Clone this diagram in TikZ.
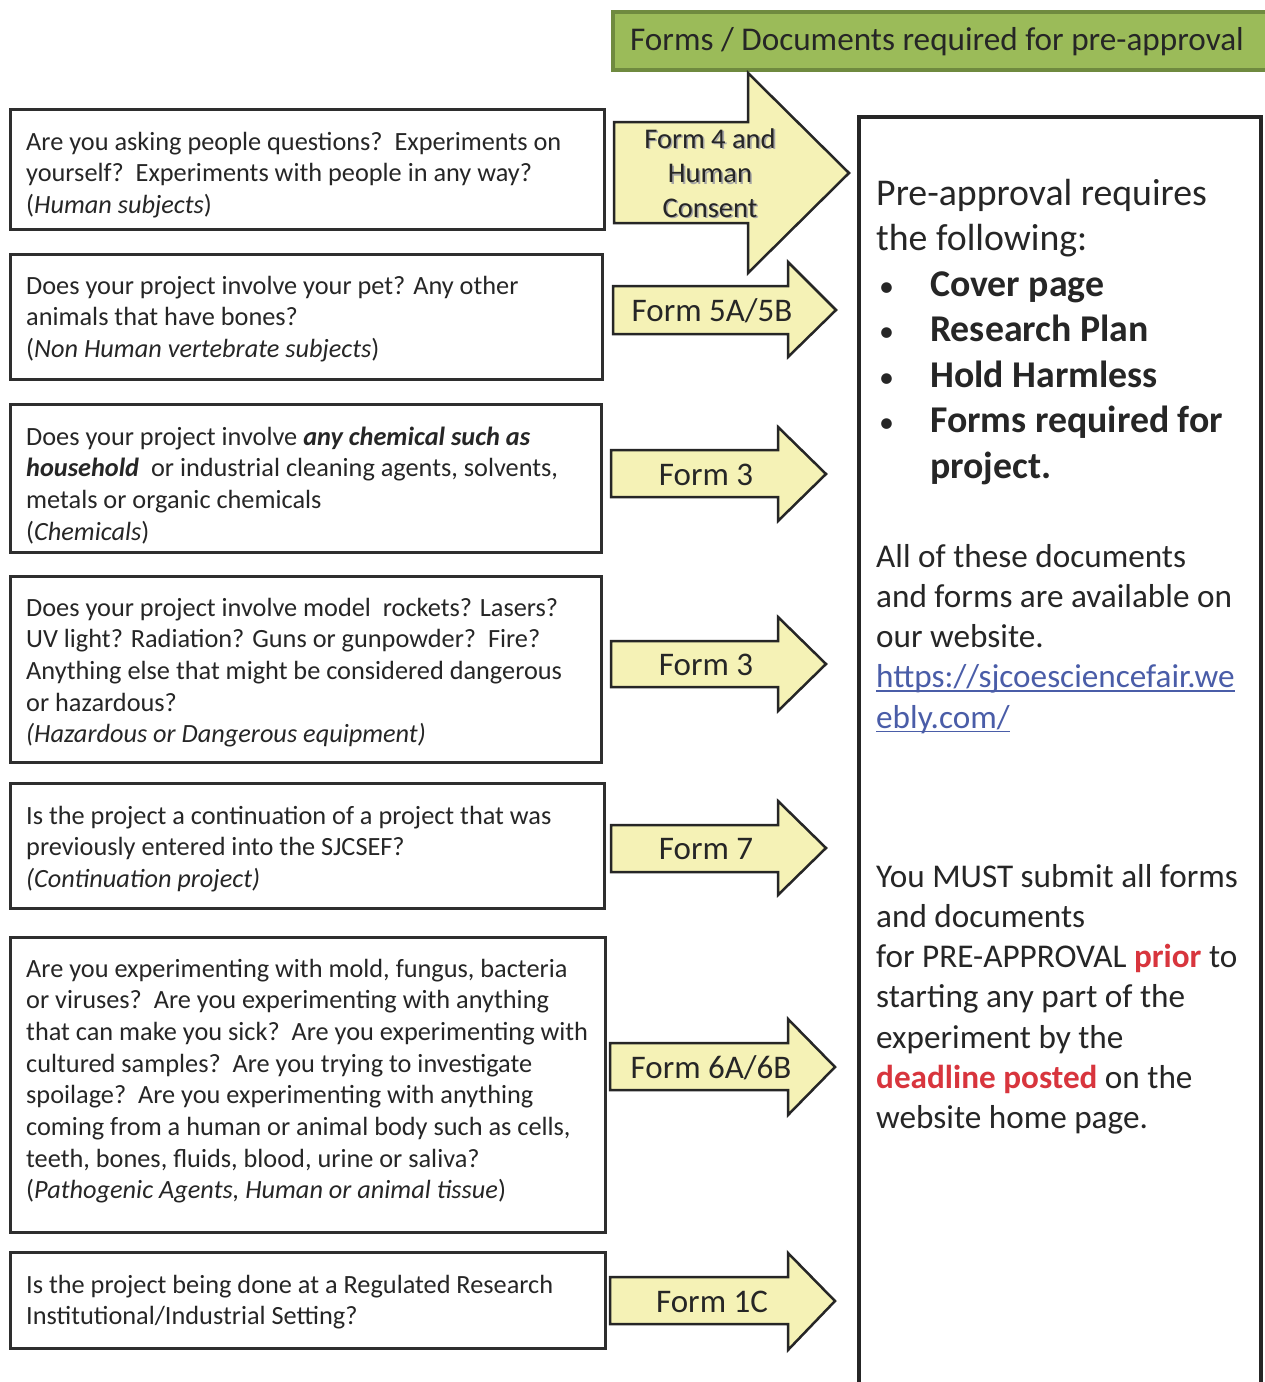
\documentclass[tikz,border=0pt]{standalone}
\usepackage{fontspec}
\setmainfont{Carlito}
\definecolor{ink}{HTML}{262626}
\definecolor{boxline}{HTML}{2E2E2E}
\definecolor{titlefill}{HTML}{9BBB59}
\definecolor{titledraw}{HTML}{6F8A3F}
\definecolor{arrfill}{HTML}{F5F2B6}
\definecolor{linkblue}{HTML}{4A5DA8}
\definecolor{alertred}{HTML}{D8353D}
\newcommand\rowsl[1]{\begin{tabular}[t]{@{}l@{}}#1\end{tabular}}
\newcommand\rowsc[1]{\begin{tabular}[t]{@{}c@{}}#1\end{tabular}}
\newcommand\linkul[1]{\setbox0\hbox{#1}\rlap{\color{linkblue}\rule[-4pt]{\wd0}{1.6pt}}\box0}
\newcommand\bul{\makebox[54pt][l]{\hspace{3pt}{\fontsize{30}{30}\selectfont•}}}
\newcommand\shad[1]{\rlap{\hspace{1.6pt}\raisebox{-1.6pt}{\textcolor{black!35}{#1}}}#1}
\tikzset{
  qbox/.style={draw=boxline, line width=3pt, fill=white, inner sep=0pt, outer sep=0pt, anchor=north west},
  panelbox/.style={draw=ink, line width=4pt},
  titlebox/.style={draw=titledraw, line width=4pt, fill=titlefill, inner sep=0pt, anchor=north west},
  blockarr/.style={draw=ink, line width=2.5pt, fill=arrfill, line join=miter},
  qtext/.style={anchor=base west, inner sep=0pt, text=ink, font=\fontsize{26.3}{31.7}\selectfont},
  arrtext/.style={anchor=base, inner sep=0pt, text=ink, font=\fontsize{33}{40}\selectfont},
  bigtext/.style={anchor=base west, inner sep=0pt, text=ink, font=\fontsize{37.8}{45.5}\selectfont},
  midtext/.style={anchor=base west, inner sep=0pt, text=ink, font=\fontsize{33.2}{40.3}\selectfont},
}
\begin{document}
\begin{tikzpicture}[x=1pt,y=-1pt]
\useasboundingbox (0,0) rectangle (1265,1382);
\fill[white] (0,0) rectangle (1265,1382);

% title
\node[titlebox, minimum width=660pt, minimum height=58pt] (title) at (611,10) {};
\node[anchor=base, inner sep=0pt, text=ink, font=\fontsize{33.2}{38}\selectfont] (titletxt) at (937,50) {Forms / Documents required for pre-approval};

% right panel
\draw[panelbox] (859,117) -- (1261,117) -- (1261,1400) -- (859,1400) -- cycle;
\node[bigtext] (pre) at (876,205) {\rowsl{Pre-approval requires\\the following:\\
\bul\textbf{Cover page}\\
\bul\textbf{Research Plan}\\
\bul\textbf{Hold Harmless}\\
\bul\textbf{Forms required for}\\
\hspace*{54pt}\textbf{project.}}};
\node[midtext] (avail) at (876,567) {\rowsl{All of these documents\\and forms are available on\\our website.\\
\color{linkblue}\linkul{https://sjcoesciencefair.we}\\
\color{linkblue}\linkul{ebly.com/}}};
\node[midtext] (must) at (876,887) {\rowsl{You MUST submit all forms\\and documents\\
for PRE-APPROVAL \textcolor{alertred}{\textbf{prior}} to\\
starting any part of the\\experiment by the\\
\textcolor{alertred}{\textbf{deadline posted}} on the\\website home page.}};

% question boxes
\node[qbox, minimum width=594pt, minimum height=120pt] (q1) at (10.5,109.5) {};
\node[qtext] (q1t) at (26,150) {\rowsl{Are you asking people questions?\ \ Experiments on\\yourself?\ \ Experiments with people in any way?\\(\textit{Human subjects})}};

\node[qbox, minimum width=592pt, minimum height=125pt] (q2) at (10.5,254.5) {};
\node[qtext] (q2t) at (26,294) {\rowsl{Does your project involve your pet? Any other\\animals that have bones?\\(\textit{Non Human vertebrate subjects})}};

\node[qbox, minimum width=591pt, minimum height=148pt] (q3) at (10.5,404.5) {};
\node[qtext] (q3t) at (26,445) {\rowsl{Does your project involve \textbf{\textit{any chemical such as}}\\\textbf{\textit{household}}\ \ or industrial cleaning agents, solvents,\\metals or organic chemicals\\(\textit{Chemicals})}};

\node[qbox, minimum width=591pt, minimum height=186pt] (q4) at (10.5,576.5) {};
\node[qtext] (q4t) at (26,616) {\rowsl{Does your project involve model\ \ rockets? Lasers?\\UV light? Radiation? Guns or gunpowder?\ \ Fire?\\Anything else that might be considered dangerous\\or hazardous?\\\textit{(Hazardous or Dangerous equipment)}}};

\node[qbox, minimum width=594pt, minimum height=125pt] (q5) at (10.5,783.5) {};
\node[qtext] (q5t) at (26,824) {\rowsl{Is the project a continuation of a project that was\\previously entered into the SJCSEF?\\\textit{(Continuation project)}}};

\node[qbox, minimum width=595pt, minimum height=295pt] (q6) at (10.5,937.5) {};
\node[qtext] (q6t) at (26,977) {\rowsl{Are you experimenting with mold, fungus, bacteria\\or viruses?\ \ Are you experimenting with anything\\that can make you sick?\ \ Are you experimenting with\\cultured samples?\ \ Are you trying to investigate\\spoilage?\ \ Are you experimenting with anything\\coming from a human or animal body such as cells,\\teeth, bones, fluids, blood, urine or saliva?\\(\textit{Pathogenic Agents, Human or animal tissue})}};

\node[qbox, minimum width=595pt, minimum height=96pt] (q7) at (10.5,1252.5) {};
\node[qtext] (q7t) at (26,1293) {\rowsl{Is the project being done at a Regulated Research\\Institutional/Industrial Setting?}};

% block arrows
\draw[blockarr] (614,122) -- (748,122) -- (748,73) -- (849,173) -- (748,273) -- (748,223) -- (614,223) -- cycle;
\node[anchor=base, inner sep=0pt, text=ink, font=\fontsize{28.5}{34.5}\selectfont] (a1t) at (710,148) {\rowsc{\shad{Form 4 and}\\\shad{Human}\\\shad{Consent}}};

\draw[blockarr] (613,286) -- (788,286) -- (788,262) -- (836,310) -- (788,357) -- (788,334) -- (613,334) -- cycle;
\node[arrtext] (a2t) at (712,321) {Form 5A/5B};

\draw[blockarr] (611,450) -- (778,450) -- (778,427) -- (826,474) -- (778,521) -- (778,497) -- (611,497) -- cycle;
\node[arrtext] (a3t) at (706,485) {Form 3};

\draw[blockarr] (611,641) -- (778,641) -- (778,617) -- (826,664) -- (778,711) -- (778,687) -- (611,687) -- cycle;
\node[arrtext] (a4t) at (706,675) {Form 3};

\draw[blockarr] (611,825) -- (778,825) -- (778,801) -- (826,848) -- (778,895) -- (778,872) -- (611,872) -- cycle;
\node[arrtext] (a5t) at (706,859) {Form 7};

\draw[blockarr] (610,1043) -- (788,1043) -- (788,1019) -- (835,1067) -- (788,1115) -- (788,1090) -- (610,1090) -- cycle;
\node[arrtext] (a6t) at (711,1078) {Form 6A/6B};

\draw[blockarr] (610,1277) -- (788,1277) -- (788,1253) -- (835,1301) -- (788,1350) -- (788,1324) -- (610,1324) -- cycle;
\node[arrtext] (a7t) at (712,1312) {Form 1C};
\end{tikzpicture}
\end{document}
